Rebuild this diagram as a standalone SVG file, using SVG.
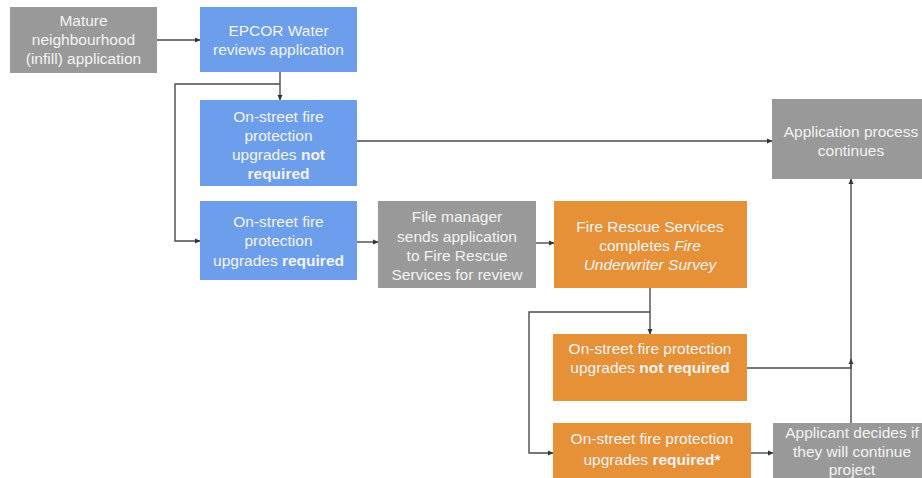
<svg xmlns="http://www.w3.org/2000/svg" width="922" height="478" viewBox="0 0 922 478">
<style>
.gray{fill:#999999}
.blue{fill:#6d9eeb}
.orange{fill:#e69138}
text{font-family:"Liberation Sans",Arial,sans-serif;font-size:15.5px;fill:#f3f3f3;text-anchor:middle}
.b{font-weight:bold}
.i{font-style:italic}
.ln{fill:none;stroke:#4a4a4a;stroke-width:1.4}
</style>
<defs>
<marker id="ah" markerWidth="6" markerHeight="6" refX="5" refY="3" orient="auto" markerUnits="userSpaceOnUse">
<path d="M0,0.5 L5.5,3 L0,5.5 Z" fill="#333"/>
</marker>
</defs>
<rect width="922" height="478" fill="#ffffff"/>
<g id="connectors">
<path class="ln" d="M157,40 H200" marker-end="url(#ah)"/>
<path class="ln" d="M280,72 V100" marker-end="url(#ah)"/>
<path class="ln" d="M280,84 H175 V241 H200" marker-end="url(#ah)"/>
<path class="ln" d="M357,141 H772" marker-end="url(#ah)"/>
<path class="ln" d="M357,242 H378" marker-end="url(#ah)"/>
<path class="ln" d="M536,243 H554" marker-end="url(#ah)"/>
<path class="ln" d="M650,288 V334" marker-end="url(#ah)"/>
<path class="ln" d="M650,312 H529 V453 H553" marker-end="url(#ah)"/>
<path class="ln" d="M751,453 H773" marker-end="url(#ah)"/>
<path class="ln" d="M747,368 H851 V359" marker-end="url(#ah)"/>
<path class="ln" d="M851,423 V179" marker-end="url(#ah)"/>
</g>
<g id="n1"><rect class="gray" x="10" y="7" width="147" height="66"/>
<text x="83.5" y="26">Mature</text><text x="83.5" y="45">neighbourhood</text><text x="83.5" y="64">(infill) application</text></g>
<g id="n2"><rect class="blue" x="200" y="7" width="157" height="65"/>
<text x="278.5" y="36">EPCOR Water</text><text x="278.5" y="55">reviews application</text></g>
<g id="n3"><rect class="blue" x="200" y="100" width="157" height="86"/>
<text x="278.5" y="122">On-street fire</text><text x="278.5" y="141">protection</text><text x="278.5" y="160">upgrades <tspan class="b">not</tspan></text><text x="278.5" y="179" class="b">required</text></g>
<g id="n4"><rect class="blue" x="200" y="201" width="157" height="79"/>
<text x="278.5" y="227">On-street fire</text><text x="278.5" y="246">protection</text><text x="278.5" y="266">upgrades <tspan class="b">required</tspan></text></g>
<g id="n5"><rect class="gray" x="378" y="201" width="158" height="87"/>
<text x="457" y="222">File manager</text><text x="457" y="242">sends application</text><text x="457" y="261">to Fire Rescue</text><text x="457" y="280">Services for review</text></g>
<g id="n6"><rect class="orange" x="554" y="201" width="193" height="87"/>
<text x="650" y="232">Fire Rescue Services</text><text x="650" y="251">completes <tspan class="i">Fire</tspan></text><text x="650" y="270" class="i">Underwriter Survey</text></g>
<g id="n7"><rect class="gray" x="772" y="99" width="160" height="80"/>
<text x="851" y="137">Application process</text><text x="851" y="156">continues</text></g>
<g id="n8"><rect class="orange" x="553" y="334" width="194" height="67"/>
<text x="650" y="354">On-street fire protection</text><text x="650" y="373">upgrades <tspan class="b">not required</tspan></text></g>
<g id="n9"><rect class="orange" x="553" y="423" width="198" height="55"/>
<text x="652" y="444">On-street fire protection</text><text x="652" y="465">upgrades <tspan class="b">required*</tspan></text></g>
<g id="n10"><rect class="gray" x="773" y="423" width="158" height="55"/>
<text x="852" y="438">Applicant decides if</text><text x="852" y="457">they will continue</text><text x="852" y="475">project</text></g>
</svg>
